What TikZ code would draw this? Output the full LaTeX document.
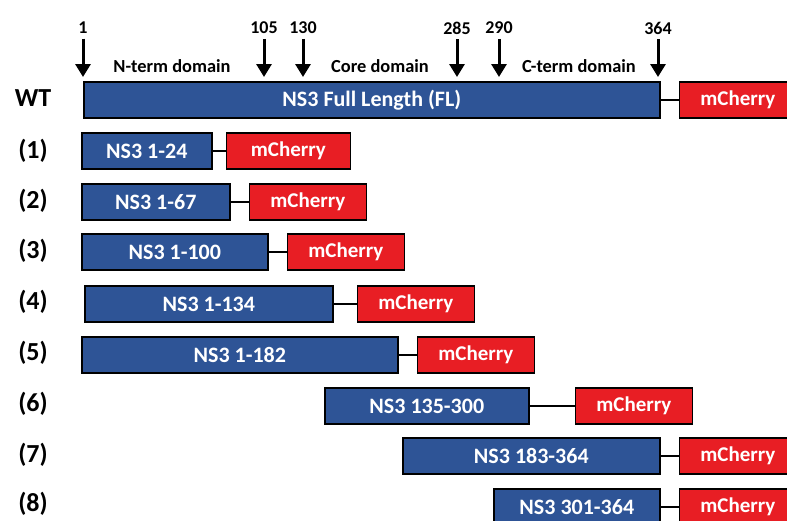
\documentclass[tikz,border=0pt]{standalone}
\usepackage{fontspec}
\setmainfont{Carlito}
\usepackage{tikz}
\usetikzlibrary{arrows.meta,positioning}
\usepackage{xcolor}
\definecolor{nsblue}{RGB}{46,84,150}
\definecolor{cherryred}{RGB}{232,30,36}

\begin{document}
\begin{tikzpicture}[x=0.5pt,y=-0.5pt,node distance=9pt,line width=0.8pt,
			font=\bfseries]
	\tikzstyle{ns3}=[draw=black,fill=nsblue,text=white,anchor=west,
		minimum height=18pt,inner sep=0pt,
		font=\bfseries\fontsize{11}{11}\selectfont]
	\tikzstyle{cherry}=[draw=black,fill=cherryred,text=white,
		minimum width=58.5pt,minimum height=18pt,inner sep=0pt,
		font=\bfseries\fontsize{10.5}{10.5}\selectfont]
	\tikzstyle{rowlabel}=[font=\bfseries\fontsize{13}{13}\selectfont]
	\tikzstyle{resid}=[font=\bfseries\fontsize{9}{9}\selectfont,inner sep=2pt]
	\tikzstyle{domlabel}=[font=\bfseries\fontsize{9.2}{9.2}\selectfont]
	\tikzstyle{sitearrow}=[-{Triangle[width=7.5pt,length=6.5pt]},line width=1.5pt]
	\tikzstyle{linker}=[line width=1.3pt]

	\clip (0,0) rectangle (787,520);

	% residue numbers and cut sites
	\node[resid] (n1)   at (83,28)  {1};
	\node[resid] (n105) at (264,28) {105};
	\node[resid] (n130) at (303,28) {130};
	\node[resid] (n285) at (457,28) {285};
	\node[resid] (n290) at (499,28) {290};
	\node[resid] (n364) at (658,28) {364};

	\coordinate (t1)   at (83,77);
	\coordinate (t105) at (264,77);
	\coordinate (t130) at (303,77);
	\coordinate (t285) at (457,77);
	\coordinate (t290) at (499,77);
	\coordinate (t364) at (658,77);

	\node[domlabel] (dN)    at (172,66) {N-term domain};
	\node[domlabel] (dCore) at (380,66) {Core domain};
	\node[domlabel] (dC)    at (579,66) {C-term domain};

	% constructs
	\node[rowlabel] (lwt) at (33,98) {WT};
	\node[ns3,minimum width=288pt] (bwt) at (83,100) {NS3 Full Length (FL)};
	\node[cherry] (rwt) [right=of bwt] {mCherry};

	\node[rowlabel] (l1) at (33,151) {(1)};
	\node[ns3,minimum width=65pt] (b1) at (81,151) {NS3 1-24};
	\node[cherry,minimum width=62pt] (r1) [right=6.5pt of b1] {mCherry};

	\node[rowlabel] (l2) at (33,201) {(2)};
	\node[ns3,minimum width=74pt] (b2) at (81,202) {NS3 1-67};
	\node[cherry] (r2) [right=of b2] {mCherry};

	\node[rowlabel] (l3) at (33,251) {(3)};
	\node[ns3,minimum width=93pt] (b3) at (81,252) {NS3 1-100};
	\node[cherry] (r3) [right=of b3] {mCherry};

	\node[rowlabel] (l4) at (33,302) {(4)};
	\node[ns3,minimum width=124pt] (b4) at (84,304) {NS3 1-134};
	\node[cherry] (r4) [right=11.5pt of b4] {mCherry};

	\node[rowlabel] (l5) at (33,353) {(5)};
	\node[ns3,minimum width=158pt] (b5) at (81,355) {NS3 1-182};
	\node[cherry] (r5) [right=of b5] {mCherry};

	\node[rowlabel] (l6) at (33,404) {(6)};
	\node[ns3,minimum width=102pt] (b6) at (324,406) {NS3 135-300};
	\node[cherry] (r6) [right=22.5pt of b6] {mCherry};

	\node[rowlabel] (l7) at (33,455) {(7)};
	\node[ns3,minimum width=128.5pt] (b7) at (402,456) {NS3 183-364};
	\node[cherry] (r7) [right=of b7] {mCherry};

	\node[rowlabel] (l8) at (33,504) {(8)};
	\node[ns3,minimum width=83pt] (b8) at (493,507) {NS3 301-364};
	\node[cherry] (r8) [right=of b8] {mCherry};

	\path 	(n1) edge[sitearrow] (t1)
			(n105) edge[sitearrow] (t105)
			(n130) edge[sitearrow] (t130)
			(n285) edge[sitearrow] (t285)
			(n290) edge[sitearrow] (t290)
			(n364) edge[sitearrow] (t364);

	\path 	(bwt) edge[linker] (rwt)
			(b1) edge[linker] (r1)
			(b2) edge[linker] (r2)
			(b3) edge[linker] (r3)
			(b4) edge[linker] (r4)
			(b5) edge[linker] (r5)
			(b6) edge[linker] (r6)
			(b7) edge[linker] (r7)
			(b8) edge[linker] (r8);
\end{tikzpicture}
\end{document}
